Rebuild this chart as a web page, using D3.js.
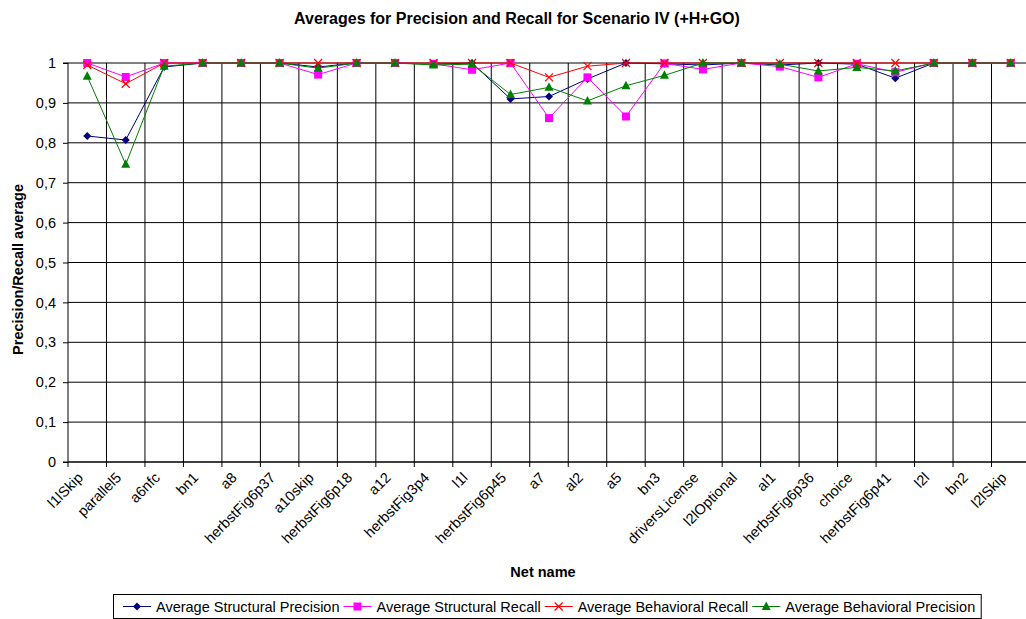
<!DOCTYPE html>
<html>
<head>
<meta charset="utf-8">
<script src="https://cdn.jsdelivr.net/npm/d3@7"></script>
<style>
  body { margin: 0; background: #fff; }
  svg { display: block; font-family: "Liberation Sans", Arial, sans-serif; }
</style>
</head>
<body>
<svg id="chart" width="1026" height="619"></svg>
<script>
// Net names along the x axis
const categories = ["l1lSkip", "parallel5", "a6nfc", "bn1", "a8", "herbstFig6p37", "a10skip",
  "herbstFig6p18", "a12", "herbstFig3p4", "l1l", "herbstFig6p45", "a7", "al2", "a5", "bn3",
  "driversLicense", "l2lOptional", "al1", "herbstFig6p36", "choice", "herbstFig6p41", "l2l", "bn2", "l2lSkip"];

// Series averages per net
const structuralPrecision = [0.817, 0.807, 0.99, 1, 1, 1, 0.99, 1, 1, 0.997, 1, 0.91, 0.916, 0.96, 1, 0.998,
  0.995, 1, 0.995, 1, 0.997, 0.962, 1, 1, 1];
const structuralRecall = [1, 0.965, 1, 1, 1, 1, 0.971, 1, 1, 0.998, 0.983, 1, 0.862, 0.964, 0.866, 0.999,
  0.984, 1, 0.991, 0.964, 0.998, 0.977, 1, 1, 1];
const behavioralRecall = [0.995, 0.948, 1, 1, 1, 1, 1, 1, 1, 1, 1, 1, 0.964, 0.992, 1, 1,
  1, 1, 1, 1, 1, 1, 1, 1, 1];
const behavioralPrecision = [0.967, 0.746, 0.992, 1, 1, 1, 0.987, 1, 1, 0.995, 0.997, 0.921, 0.939, 0.905, 0.943, 0.969,
  1, 1, 0.997, 0.98, 0.989, 0.98, 1, 1, 1];

const yTicks = [0, 0.1, 0.2, 0.3, 0.4, 0.5, 0.6, 0.7, 0.8, 0.9, 1];

const seriesNames = ["Average Structural Precision", "Average Structural Recall",
  "Average Behavioral Recall", "Average Behavioral Precision"];

const series = [
  { name: seriesNames[0], values: structuralPrecision, color: "#000080", marker: "diamond" },
  { name: seriesNames[1], values: structuralRecall, color: "#FF00FF", marker: "square" },
  { name: seriesNames[2], values: behavioralRecall, color: "#FF0000", marker: "cross" },
  { name: seriesNames[3], values: behavioralPrecision, color: "#008000", marker: "triangle" }
];

const svg = d3.select("#chart");
const plot = { left: 68, top: 63, bottom: 462, right: 1030 };
const fontSize = 14.5;

const x = d3.scaleBand().domain(categories).range([plot.left, plot.right]).padding(0);
const y = d3.scaleLinear().domain([0, 1]).range([plot.bottom, plot.top]);
const cx = c => x(c) + x.bandwidth() / 2;

// Title
svg.append("text")
  .attr("x", 517).attr("y", 24)
  .attr("text-anchor", "middle")
  .attr("font-size", 16).attr("font-weight", "bold")
  .text("Averages for Precision and Recall for Scenario IV (+H+GO)");

// Horizontal gridlines
svg.append("g").selectAll("line").data(yTicks).join("line")
  .attr("x1", plot.left).attr("x2", plot.right)
  .attr("y1", d => y(d)).attr("y2", d => y(d))
  .attr("stroke", "#000").attr("stroke-width", 1);

// Vertical gridlines at category boundaries
const bounds = categories.map(c => x(c)).concat([plot.right]);
svg.append("g").selectAll("line").data(bounds.slice(1)).join("line")
  .attr("x1", d => d).attr("x2", d => d)
  .attr("y1", plot.top).attr("y2", plot.bottom)
  .attr("stroke", "#000").attr("stroke-width", 1);

// Y axis
const yAxis = d3.axisLeft(y).tickValues(yTicks).tickSize(5).tickPadding(7)
  .tickFormat(d => d3.format(".1~f")(d).replace(".", ","));
const gy = svg.append("g").attr("transform", `translate(${plot.left},0)`).call(yAxis);
gy.select(".domain").attr("stroke", "#000").attr("d", `M-5,${plot.top}H0V${plot.bottom}H-5`);
gy.selectAll("text").attr("font-size", fontSize).attr("fill", "#000")
  .attr("font-family", "Liberation Sans, Arial, sans-serif");

// X axis with ticks at category boundaries
const gx = svg.append("g").attr("transform", `translate(0,${plot.bottom})`);
gx.append("line").attr("x1", plot.left).attr("x2", plot.right).attr("y1", 0).attr("y2", 0).attr("stroke", "#000");
gx.selectAll("line.tick").data(bounds).join("line").attr("class", "tick")
  .attr("x1", d => d).attr("x2", d => d).attr("y1", 0).attr("y2", 5).attr("stroke", "#000");
gx.selectAll("text").data(categories).join("text")
  .attr("transform", d => `translate(${cx(d) - 7},${13}) rotate(-45)`)
  .attr("text-anchor", "end")
  .attr("font-size", fontSize)
  .attr("dy", "0.35em")
  .text(d => d);

// Axis titles
svg.append("text")
  .attr("transform", `translate(23,${(plot.top + plot.bottom) / 2 + 7}) rotate(-90)`)
  .attr("text-anchor", "middle").attr("font-size", fontSize).attr("font-weight", "bold")
  .text("Precision/Recall average");
svg.append("text")
  .attr("x", 543).attr("y", 577)
  .attr("text-anchor", "middle").attr("font-size", fontSize).attr("font-weight", "bold")
  .text("Net name");

// Marker drawing
function drawMarker(g, type, color) {
  if (type === "diamond") {
    g.append("path").attr("d", "M0,-4L4,0L0,4L-4,0Z").attr("fill", color);
  } else if (type === "square") {
    g.append("rect").attr("x", -4).attr("y", -4).attr("width", 8).attr("height", 8).attr("fill", color);
  } else if (type === "triangle") {
    g.append("path").attr("d", "M0,-5L4.5,3.5L-4.5,3.5Z").attr("fill", color);
  } else if (type === "cross") {
    g.append("path").attr("d", "M-4,-4L4,4M-4,4L4,-4").attr("stroke", color).attr("stroke-width", 1.2).attr("fill", "none");
  }
}

// Series lines and markers
const line = d3.line().x((d, i) => cx(categories[i])).y(d => y(d));
series.forEach(s => {
  const g = svg.append("g");
  g.append("path").datum(s.values).attr("d", line)
    .attr("fill", "none").attr("stroke", s.color).attr("stroke-width", 1);
  s.values.forEach((v, i) => {
    const m = g.append("g").attr("transform", `translate(${cx(categories[i])},${y(v)})`);
    drawMarker(m, s.marker, s.color);
  });
});

// Legend
const legend = svg.append("g");
const legendBox = legend.append("rect")
  .attr("fill", "#fff").attr("stroke", "#000").attr("stroke-width", 1);
let lx = 123;
const ly = 606.5;
series.forEach(s => {
  legend.append("line").attr("x1", lx).attr("x2", lx + 28).attr("y1", ly).attr("y2", ly)
    .attr("stroke", s.color).attr("stroke-width", 1);
  drawMarker(legend.append("g").attr("transform", `translate(${lx + 14},${ly})`), s.marker, s.color);
  const t = legend.append("text").attr("x", lx + 33).attr("y", ly).attr("dy", "0.35em")
    .attr("font-size", fontSize).text(s.name);
  lx += 33 + t.node().getComputedTextLength() + 4;
});
legendBox.attr("x", 113.5).attr("y", 594.5).attr("width", lx - 113.5 + 2).attr("height", 24);
</script>
</body>
</html>
